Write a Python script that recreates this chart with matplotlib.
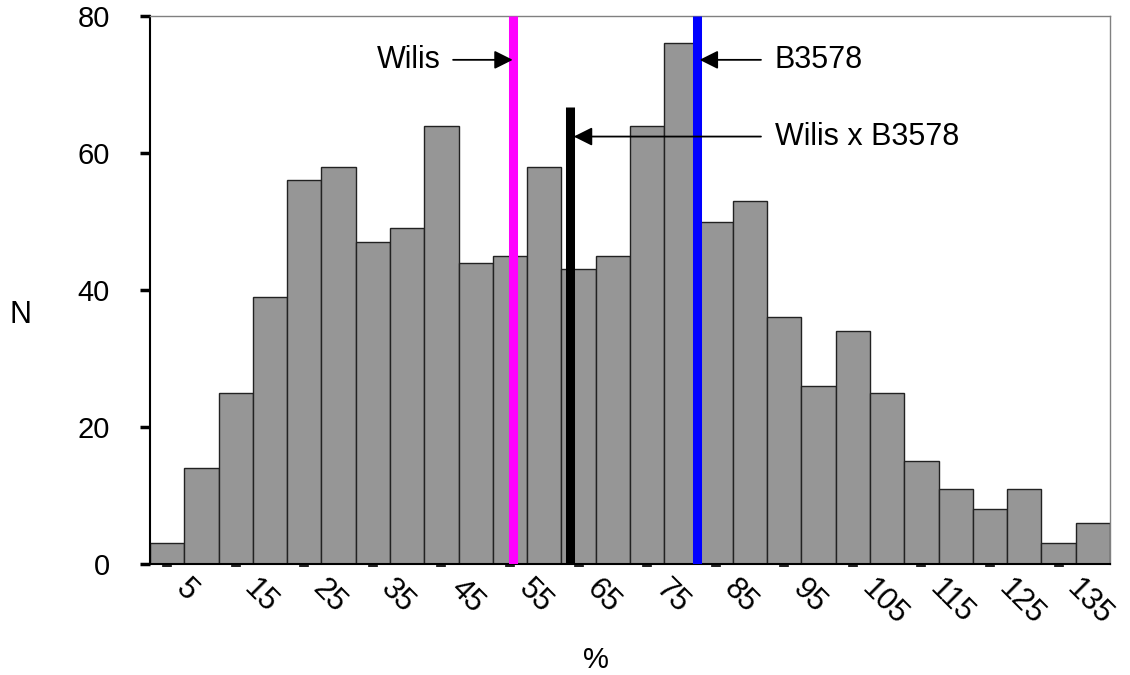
#%% Imports
import numpy as np
import matplotlib
matplotlib.use('Agg')
import matplotlib.pyplot as plt
import matplotlib.transforms as mtransforms

# Data
bin_centers = [5, 10, 15, 20, 25, 30, 35, 40, 45, 50, 55, 60, 65, 70,
               75, 80, 85, 90, 95, 100, 105, 110, 115, 120, 125, 130, 135, 140]
counts      = [3, 14, 25, 39, 56, 58, 47, 49, 64, 44, 45, 58, 43, 45,
               64, 76, 50, 53, 36, 26, 34, 25, 15, 11, 8, 11, 3, 6]
xtick_vals   = [5, 15, 25, 35, 45, 55, 65, 75, 85, 95, 105, 115, 125, 135]
xtick_labels = [str(v) for v in xtick_vals]
yticks       = [0, 20, 40, 60, 80]

# Marker lines (x position, top) and arrow heights
wilis_x, wilis_top = 55.4, 80
b3578_x, b3578_top = 82.3, 80
cross_x, cross_top = 63.7, 66.7
wilis_arrow_y      = 73.6
b3578_arrow_y      = 73.6
cross_arrow_y      = 62.4

bin_width = 5

#%% Plot
plt.rcParams['font.family'] = ['Liberation Sans', 'DejaVu Sans']
fig = plt.figure(figsize=(11.3, 6.75), dpi=100)
ax = fig.add_axes([150 / 1130, 1 - 564 / 675, 960 / 1130, 548 / 675])

ax.bar(bin_centers, counts, width=bin_width, color='#969696',
       edgecolor='#222222', linewidth=1.0, zorder=2)

ax.plot([wilis_x, wilis_x], [0, wilis_top], color='#ff00ff', lw=6.5,
        solid_capstyle='butt', zorder=3)
ax.plot([b3578_x, b3578_x], [0, b3578_top], color='#0000ff', lw=6.5,
        solid_capstyle='butt', zorder=3)
ax.plot([cross_x, cross_x], [0, cross_top], color='black', lw=6.5,
        solid_capstyle='butt', zorder=3)

arrow = dict(arrowstyle='-|>', mutation_scale=28, lw=1.3, color='black',
             shrinkA=0, shrinkB=0)
ax.annotate('', xy=(wilis_x, wilis_arrow_y), xytext=(46.7, wilis_arrow_y),
            arrowprops=arrow, zorder=4)
ax.text(44.9, wilis_arrow_y, 'Wilis', ha='right', va='center', fontsize=22)

ax.annotate('', xy=(b3578_x + 0.35, b3578_arrow_y), xytext=(91.6, b3578_arrow_y),
            arrowprops=arrow, zorder=4)
ax.text(93.6, b3578_arrow_y, 'B3578', ha='left', va='center', fontsize=22)

ax.annotate('', xy=(cross_x + 0.6, cross_arrow_y), xytext=(91.6, cross_arrow_y),
            arrowprops=arrow, zorder=4)
ax.text(93.6, cross_arrow_y, 'Wilis x B3578', ha='left', va='center', fontsize=22)

# Axes
ax.set_xlim(2.5, 142.5)
ax.set_ylim(0, 80)
ax.set_yticks(yticks)
ax.set_xticks(xtick_vals)
ax.set_xticklabels([])
# rotated x labels, placed a bit right of and below each tick
lbl_trans = ax.get_xaxis_transform() + mtransforms.ScaledTranslation(
    0.13, -0.20, fig.dpi_scale_trans)
for xv, txt in zip(xtick_vals, xtick_labels):
    ax.text(xv, 0, txt, transform=lbl_trans, rotation=-45, ha='left',
            va='center', rotation_mode='anchor', fontsize=22, clip_on=False)
ax.tick_params(axis='y', direction='out', length=7, width=2.5, pad=22,
               labelsize=21, colors='black')
ax.tick_params(axis='x', direction='out', length=2, width=7,
               color='#222222')
for side in ['top', 'right']:
    ax.spines[side].set_color('#808080')
    ax.spines[side].set_linewidth(1.0)
for side in ['left', 'bottom']:
    ax.spines[side].set_color('black')
    ax.spines[side].set_linewidth(1.5)

fig.text(20 / 1130, 1 - 315 / 675, 'N', ha='center', va='center', fontsize=22)
fig.text(596 / 1130, 1 - 660 / 675, '%', ha='center', va='center', fontsize=21)

fig.savefig('out.png', dpi=100)
